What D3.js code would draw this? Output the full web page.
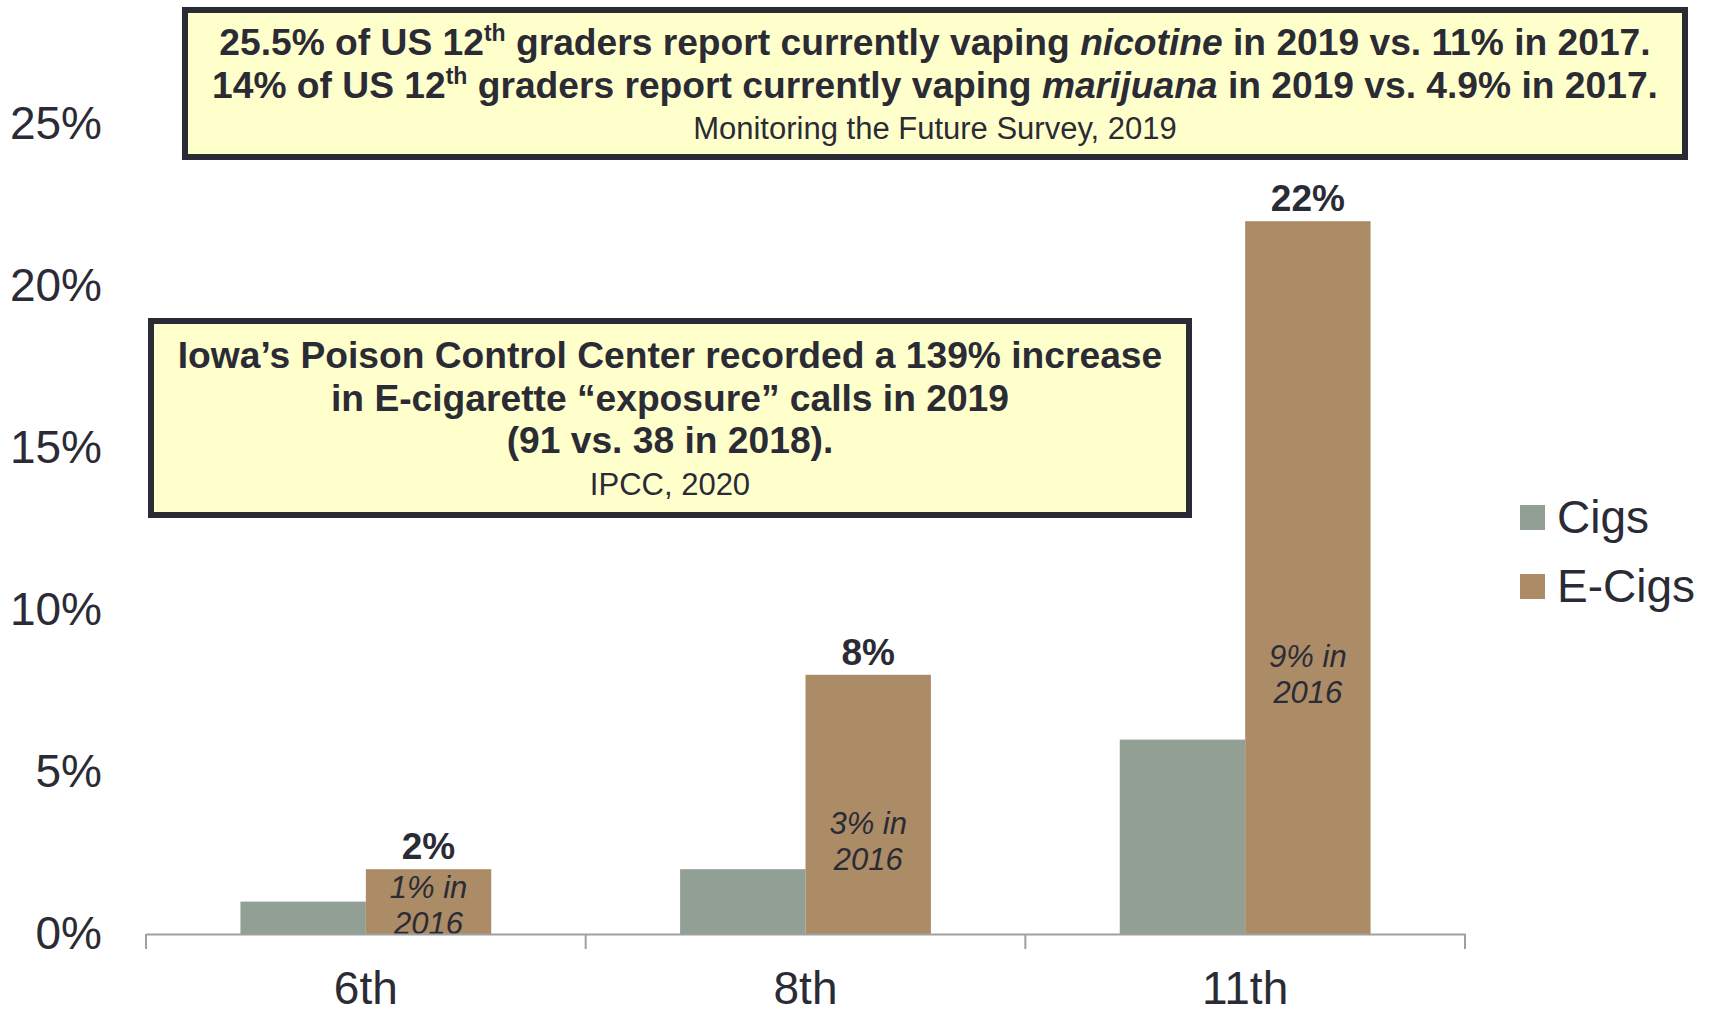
<!DOCTYPE html>
<html>
<head>
<meta charset="utf-8">
<script src="https://cdn.jsdelivr.net/npm/d3@7"></script>
<style>
  body { margin: 0; background: #fff; }
  svg { display: block; font-family: "Liberation Sans", Arial, sans-serif; }
</style>
</head>
<body>
<svg id="chart" width="1717" height="1009"></svg>
<script>
// data
const grades = ["6th", "8th", "11th"]
const series = ["Cigs", "E-Cigs"]
const cigs = [1, 2, 6]
const ecigs = [2, 8, 22]
const notes2016 = ["1% in", "3% in", "9% in"]
const noteLevels = [1.1, 3.1, 8.25]
const yTicks = [0, 5, 10, 15, 20, 25]

const colors = { "Cigs": "#929f95", "E-Cigs": "#ab8c66" }
const ink = "#2b2b35"

const svg = d3.select("#chart")

const x = d3.scaleBand().domain(grades).range([146, 1465])
const x1 = d3.scaleBand().domain(series).range([0, x.bandwidth()]).paddingInner(0).paddingOuter(0.753)
const y = d3.scaleLinear().domain([0, 25]).range([934, 124])

// y axis: labels only
svg.append("g")
  .attr("transform", "translate(102,0)")
  .call(d3.axisLeft(y).tickValues(yTicks).tickFormat(d => d + "%").tickSize(0).tickPadding(0))
  .call(g => g.select(".domain").remove())
  .selectAll("text")
  .attr("font-size", 46)
  .attr("font-family", "Liberation Sans, Arial, sans-serif")
  .attr("fill", ink)

// bars
const rows = grades.map((g, i) => ({ grade: g, values: [cigs[i], ecigs[i]] }))

const groups = svg.append("g").selectAll("g")
  .data(rows)
  .join("g")
  .attr("transform", d => `translate(${x(d.grade)},0)`)

groups.selectAll("rect")
  .data(d => d.values.map((v, j) => ({ key: series[j], value: v })))
  .join("rect")
  .attr("x", d => x1(d.key))
  .attr("width", x1.bandwidth())
  .attr("y", d => y(d.value))
  .attr("height", d => y(0) - y(d.value))
  .attr("fill", d => colors[d.key])

// value labels on e-cig bars
groups.append("text")
  .attr("x", x1("E-Cigs") + x1.bandwidth() / 2)
  .attr("y", (d, i) => y(ecigs[i]) - 10)
  .attr("text-anchor", "middle")
  .attr("font-size", 37)
  .attr("font-weight", "bold")
  .attr("fill", ink)
  .text((d, i) => ecigs[i] + "%")

// 2016 notes inside e-cig bars
const notes = groups.append("text")
  .attr("text-anchor", "middle")
  .attr("font-size", 31)
  .attr("font-style", "italic")
  .attr("fill", ink)
notes.append("tspan")
  .attr("x", x1("E-Cigs") + x1.bandwidth() / 2)
  .attr("y", (d, i) => y(noteLevels[i]))
  .text((d, i) => notes2016[i])
notes.append("tspan")
  .attr("x", x1("E-Cigs") + x1.bandwidth() / 2)
  .attr("dy", 36)
  .text("2016")

// x axis
const xAxis = svg.append("g")
  .attr("transform", `translate(0,${y(0)})`)
  .call(d3.axisBottom(x).tickSize(0).tickPadding(37))
xAxis.select(".domain").attr("stroke", "#a0a0a0").attr("stroke-width", 2)
xAxis.selectAll("text")
  .attr("font-size", 46)
  .attr("font-family", "Liberation Sans, Arial, sans-serif")
  .attr("fill", ink)
xAxis.selectAll(".sep")
  .data(grades.map(g => x(g)).concat([x.range()[1]]))
  .join("line")
  .attr("class", "sep")
  .attr("x1", d => d).attr("x2", d => d)
  .attr("y1", 0).attr("y2", 15)
  .attr("stroke", "#a0a0a0")
  .attr("stroke-width", 2)

// legend
const legend = svg.append("g").selectAll("g")
  .data(series)
  .join("g")
  .attr("transform", (d, i) => `translate(1520,${505 + i * 69})`)
legend.append("rect")
  .attr("width", 25).attr("height", 25)
  .attr("fill", d => colors[d])
legend.append("text")
  .attr("x", 37)
  .attr("y", 28)
  .attr("font-size", 46)
  .attr("fill", ink)
  .text(d => d)

// callout boxes
function box(x0, y0, w, h) {
  svg.append("rect")
    .attr("x", x0 + 3).attr("y", y0 + 3)
    .attr("width", w - 6).attr("height", h - 6)
    .attr("fill", "#ffffcc")
    .attr("stroke", ink)
    .attr("stroke-width", 6)
}

// top box: Monitoring the Future
box(182, 7, 1506, 153)
const cx1 = 935
const topLines = [
  { pre: "25.5% of US 12", mid: " graders report currently vaping ", em: "nicotine", post: " in 2019 vs. 11% in 2017.", base: 55 },
  { pre: "14% of US 12", mid: " graders report currently vaping ", em: "marijuana", post: " in 2019 vs. 4.9% in 2017.", base: 98 }
]
topLines.forEach(l => {
  const t = svg.append("text")
    .attr("x", cx1).attr("y", l.base)
    .attr("text-anchor", "middle")
    .attr("font-size", 37.2)
    .attr("font-weight", "bold")
    .attr("fill", ink)
  t.append("tspan").text(l.pre)
  t.append("tspan").attr("font-size", 23).attr("dy", -14).text("th")
  t.append("tspan").attr("dy", 14).text(l.mid)
  t.append("tspan").attr("font-style", "italic").text(l.em)
  t.append("tspan").text(l.post)
})
svg.append("text")
  .attr("x", cx1).attr("y", 139)
  .attr("text-anchor", "middle")
  .attr("font-size", 31)
  .attr("fill", ink)
  .text("Monitoring the Future Survey, 2019")

// second box: Iowa poison control
box(148, 318, 1044, 200)
const cx2 = 670
const iowaLines = [
  "Iowa\u2019s Poison Control Center recorded a 139% increase",
  "in E-cigarette \u201cexposure\u201d calls in 2019",
  "(91 vs. 38 in 2018)."
]
svg.append("g").selectAll("text")
  .data(iowaLines)
  .join("text")
  .attr("x", cx2)
  .attr("y", (d, i) => 368 + i * 42.5)
  .attr("text-anchor", "middle")
  .attr("font-size", 37.2)
  .attr("font-weight", "bold")
  .attr("fill", ink)
  .text(d => d)
svg.append("text")
  .attr("x", cx2).attr("y", 495)
  .attr("text-anchor", "middle")
  .attr("font-size", 31)
  .attr("fill", ink)
  .text("IPCC, 2020")
</script>
</body>
</html>
